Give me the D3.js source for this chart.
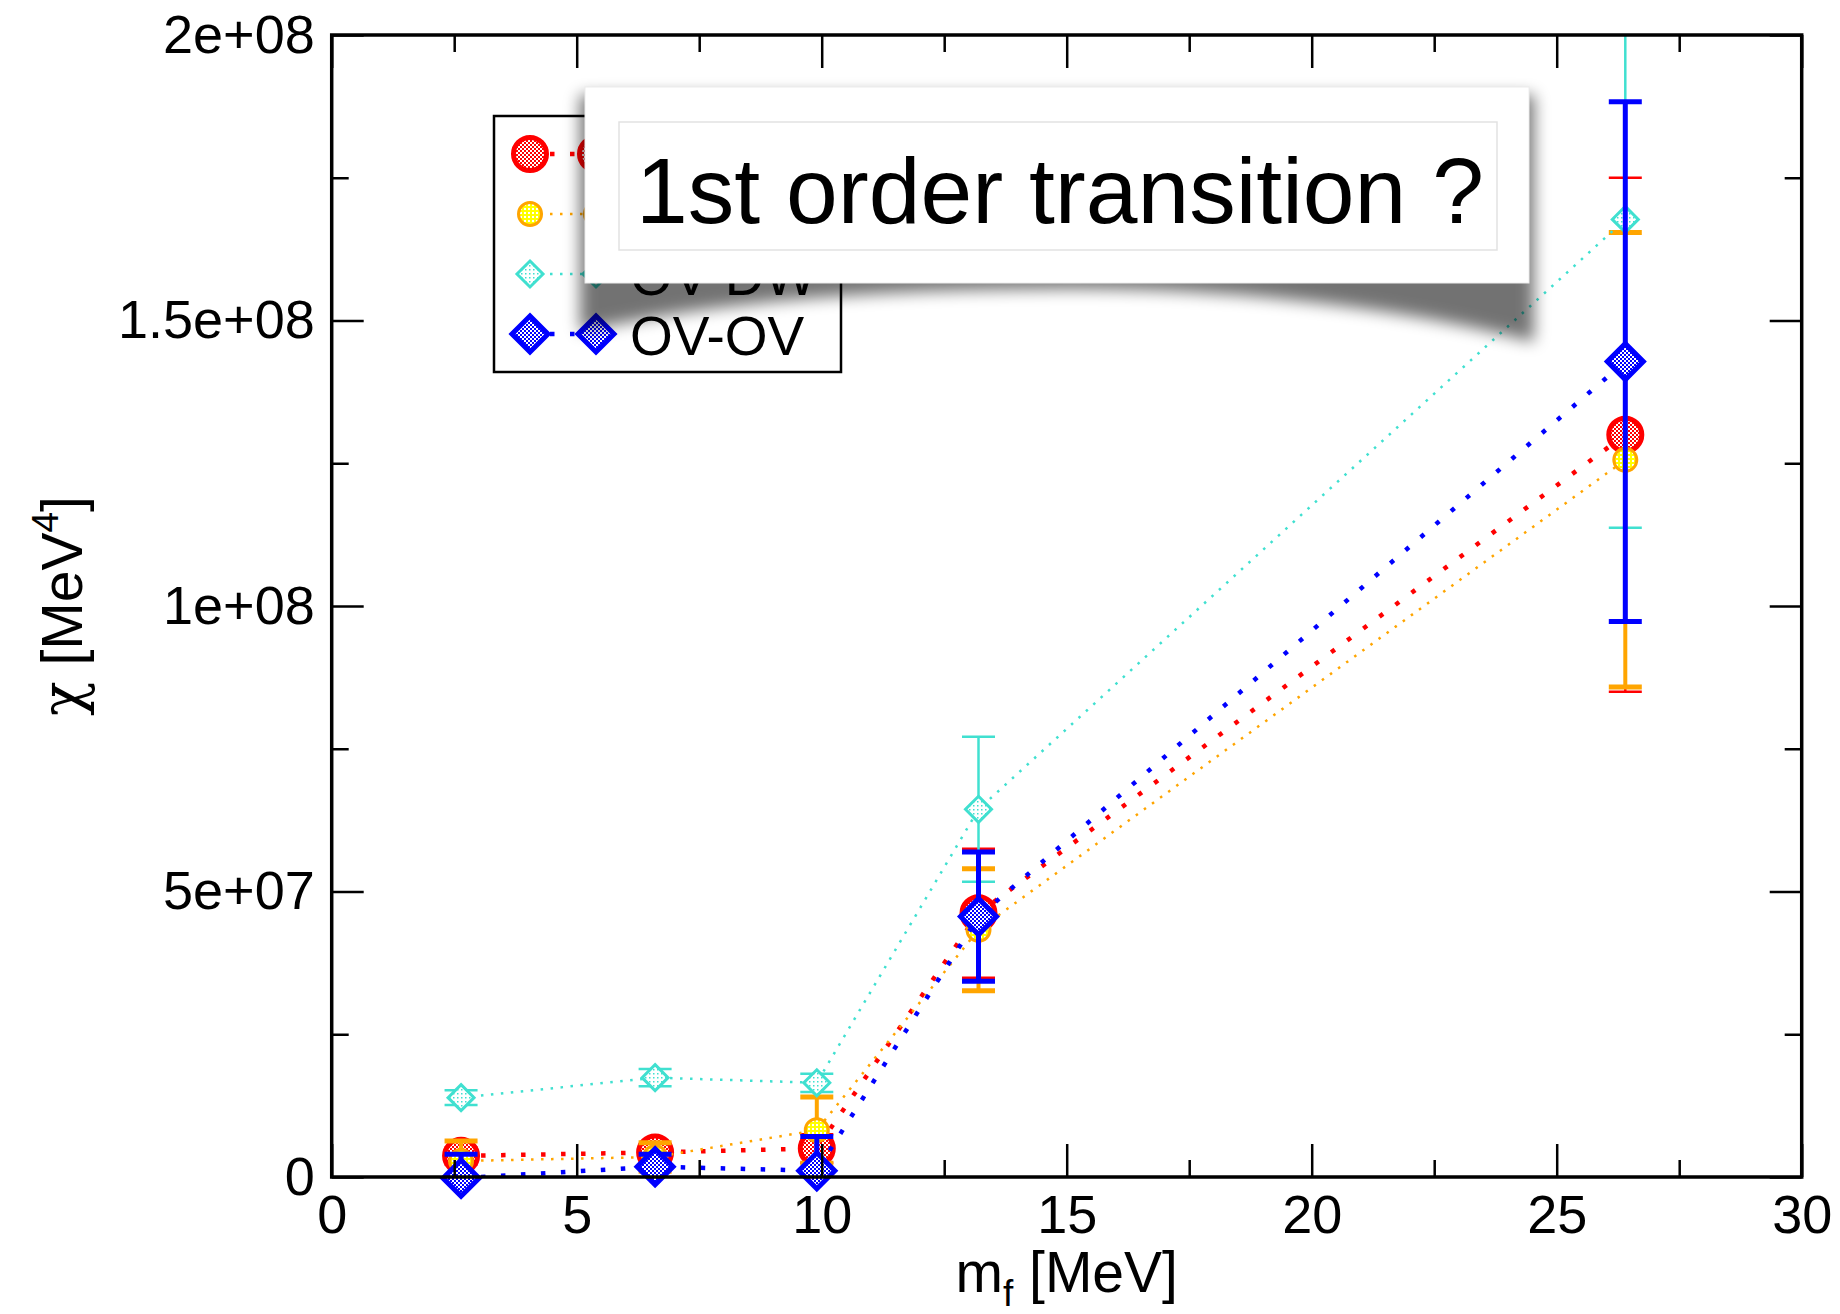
<!DOCTYPE html>
<html>
<head>
<meta charset="utf-8">
<script src="https://cdn.jsdelivr.net/npm/d3@7"></script>
<style>
  body { margin: 0; background: #fff; }
  text { font-family: "Liberation Sans", Arial, sans-serif; fill: #000; }
</style>
</head>
<body>
<svg width="1840" height="1314"></svg>
<script>
// chi vs quark mass, four lattice setups
const mf = [2.64, 6.6, 9.9, 13.2, 26.4];

const chiRed = [3.7e6, 4.3e6, 5.0e6, 4.62e7, 1.30e8];
const errRed = [1.5e6, 1.5e6, 2.5e6, 1.13e7, 4.5e7];

const chiOrange = [2.8e6, 3.5e6, 8.2e6, 4.33e7, 1.256e8];
const errOrange = [3.5e6, 2.5e6, 5.8e6, 1.07e7, 3.98e7];

const chiTurq = [1.39e7, 1.74e7, 1.65e7, 6.44e7, 1.677e8];
const errTurq = [1.3e6, 1.5e6, 1.6e6, 1.27e7, 5.4e7];

const chiBlue = [-2e5, 1.8e6, 1.1e6, 4.56e7, 1.428e8];
const errBlue = [4.2e6, 2.2e6, 6.0e6, 1.13e7, 4.55e7];

// first two legend labels are covered by the callout, so they stay empty
const seriesNames = ['', '', 'OV-DW', 'OV-OV'];

const xMajorTicks = [0, 5, 10, 15, 20, 25, 30];
const xMinorTicks = [2.5, 7.5, 12.5, 17.5, 22.5, 27.5];
const yMajorTicks = [0, 5e7, 1e8, 1.5e8, 2e8];
const yTickLabels = ['0', '5e+07', '1e+08', '1.5e+08', '2e+08'];
const yMinorTicks = [2.5e7, 7.5e7, 1.25e8, 1.75e8];

const xAxisLabel = 'm';
const xAxisSub = 'f';
const xAxisUnit = ' [MeV]';
const noteText = '1st order transition ?';

const svg = d3.select('svg');

// plot frame in pixels
const pLeft = 331.7, pRight = 1801.7, pTop = 35, pBottom = 1177;

const xScale = d3.scaleLinear().domain([0, 30]).range([pLeft, pRight]);
const yScale = d3.scaleLinear().domain([0, 2e8]).range([pBottom, pTop]);

const defs = svg.append('defs');
defs.append('clipPath').attr('id', 'plotClip')
  .append('rect')
  .attr('x', pLeft).attr('y', pTop)
  .attr('width', pRight - pLeft).attr('height', pBottom - pTop);

// checker fills like grace's pattern symbols
const makePattern = (id, bg, fg, cells) => {
  const p = defs.append('pattern')
    .attr('id', id)
    .attr('patternUnits', 'userSpaceOnUse')
    .attr('width', 4).attr('height', 4);
  p.append('rect').attr('width', 4).attr('height', 4).attr('fill', bg);
  cells.forEach(c => p.append('rect')
    .attr('x', c[0]).attr('y', c[1]).attr('width', c[2]).attr('height', c[2])
    .attr('fill', fg));
};
makePattern('patRed', '#ff0000', '#ffffff', [[0, 0, 2], [2, 2, 2]]);
makePattern('patOrange', '#ffff00', '#ffffff', [[0, 0, 2]]);
makePattern('patTurq', '#ffffff', '#40e0d0', [[1, 1, 1.5]]);
makePattern('patBlue', '#0000ff', '#ffffff', [[0, 0, 2], [2, 2, 2]]);

const series = [
  { name: seriesNames[0], y: chiRed, e: errRed, color: '#ff0000', fill: 'url(#patRed)',
    shape: 'circle', size: 16.5, sw: 5, lw: 4.5, dash: '4.5 15.5', ew: 2.5, cw: 2.5 },
  { name: seriesNames[1], y: chiOrange, e: errOrange, color: '#ffa500', fill: 'url(#patOrange)',
    shape: 'circle', size: 11.5, sw: 3, lw: 2.5, dash: '2.5 7.5', ew: 4, cw: 5 },
  { name: seriesNames[2], y: chiTurq, e: errTurq, color: '#40e0d0', fill: 'url(#patTurq)',
    shape: 'diamond', size: 13, sw: 3, lw: 2.5, dash: '2.5 7.5', ew: 2.5, cw: 2.5 },
  { name: seriesNames[3], y: chiBlue, e: errBlue, color: '#0000ff', fill: 'url(#patBlue)',
    shape: 'diamond', size: 18, sw: 5, lw: 4.5, dash: '4.5 15.5', ew: 5, cw: 5 }
];

const capHalf = 16.5;

const drawSymbol = (sel, s, cx, cy) => {
  if (s.shape === 'circle') {
    sel.append('circle')
      .attr('cx', cx).attr('cy', cy).attr('r', s.size)
      .attr('fill', s.fill).attr('stroke', s.color).attr('stroke-width', s.sw);
  } else {
    const d = s.size;
    sel.append('path')
      .attr('d', `M${cx},${cy - d}L${cx + d},${cy}L${cx},${cy + d}L${cx - d},${cy}Z`)
      .attr('fill', s.fill).attr('stroke', s.color).attr('stroke-width', s.sw)
      .attr('stroke-linejoin', 'miter');
  }
};

const dataLayer = svg.append('g');

series.forEach(s => {
  const pts = mf.map((x, i) => ({ x, y: s.y[i], e: s.e[i] }));
  const g = dataLayer.append('g');

  // dotted connecting line
  g.append('path')
    .attr('clip-path', 'url(#plotClip)')
    .attr('d', d3.line().x(d => xScale(d.x)).y(d => yScale(d.y))(pts))
    .attr('fill', 'none')
    .attr('stroke', s.color)
    .attr('stroke-width', s.lw)
    .attr('stroke-dasharray', s.dash);

  // error bars
  const eb = g.append('g').attr('clip-path', 'url(#plotClip)');
  pts.forEach(d => {
    const cx = xScale(d.x);
    const y1 = yScale(d.y - d.e), y2 = yScale(d.y + d.e);
    eb.append('line')
      .attr('x1', cx).attr('x2', cx).attr('y1', y1).attr('y2', y2)
      .attr('stroke', s.color).attr('stroke-width', s.ew);
    [y1, y2].forEach(yy => eb.append('line')
      .attr('x1', cx - capHalf).attr('x2', cx + capHalf)
      .attr('y1', yy).attr('y2', yy)
      .attr('stroke', s.color).attr('stroke-width', s.cw));
  });

  // symbols
  pts.forEach(d => drawSymbol(g, s, xScale(d.x), yScale(d.y)));
});

// axes: major + minor ticks pointing inward, on all four sides
const tickFont = 54;
const styleAxis = (grp, width) => {
  grp.select('.domain').remove();
  grp.selectAll('line').attr('stroke', '#000').attr('stroke-width', width);
  grp.selectAll('text').attr('font-size', tickFont)
    .attr('font-family', '"Liberation Sans", Arial, sans-serif').attr('fill', '#000');
};

svg.append('g').attr('transform', `translate(0,${pBottom})`)
  .call(d3.axisBottom(xScale).tickValues(xMajorTicks).tickSize(-33).tickPadding(18)
    .tickFormat(d3.format('d')))
  .call(g => styleAxis(g, 2.5));
svg.append('g').attr('transform', `translate(0,${pBottom})`)
  .call(d3.axisBottom(xScale).tickValues(xMinorTicks).tickSize(-17).tickFormat(''))
  .call(g => styleAxis(g, 2.5));

svg.append('g').attr('transform', `translate(0,${pTop})`)
  .call(d3.axisTop(xScale).tickValues(xMajorTicks).tickSize(-33).tickFormat(''))
  .call(g => styleAxis(g, 2.5));
svg.append('g').attr('transform', `translate(0,${pTop})`)
  .call(d3.axisTop(xScale).tickValues(xMinorTicks).tickSize(-17).tickFormat(''))
  .call(g => styleAxis(g, 2.5));

svg.append('g').attr('transform', `translate(${pLeft},0)`)
  .call(d3.axisLeft(yScale).tickValues(yMajorTicks).tickSize(-32).tickPadding(17)
    .tickFormat((d, i) => yTickLabels[i]))
  .call(g => styleAxis(g, 2.5));
svg.append('g').attr('transform', `translate(${pLeft},0)`)
  .call(d3.axisLeft(yScale).tickValues(yMinorTicks).tickSize(-17).tickFormat(''))
  .call(g => styleAxis(g, 2.5));

svg.append('g').attr('transform', `translate(${pRight},0)`)
  .call(d3.axisRight(yScale).tickValues(yMajorTicks).tickSize(-32).tickFormat(''))
  .call(g => styleAxis(g, 2.5));
svg.append('g').attr('transform', `translate(${pRight},0)`)
  .call(d3.axisRight(yScale).tickValues(yMinorTicks).tickSize(-17).tickFormat(''))
  .call(g => styleAxis(g, 2.5));

svg.append('rect')
  .attr('x', pLeft).attr('y', pTop)
  .attr('width', pRight - pLeft).attr('height', pBottom - pTop)
  .attr('fill', 'none').attr('stroke', '#000').attr('stroke-width', 3.5);

// axis titles
const xTitle = svg.append('text')
  .attr('x', (pLeft + pRight) / 2).attr('y', 1292)
  .attr('text-anchor', 'middle').attr('font-size', 57);
xTitle.append('tspan').text(xAxisLabel);
xTitle.append('tspan').attr('font-size', 37).attr('dy', 14).text(xAxisSub);
xTitle.append('tspan').attr('dy', -14).text(xAxisUnit);

const yTitle = svg.append('text')
  .attr('transform', `translate(82,${(pTop + pBottom) / 2}) rotate(-90)`)
  .attr('text-anchor', 'middle').attr('font-size', 57);
yTitle.append('tspan').style('font-family', '"DejaVu Serif", serif').text('\u03c7');
yTitle.append('tspan').text(' [MeV');
yTitle.append('tspan').attr('font-size', 37).attr('dy', -24).text('4');
yTitle.append('tspan').attr('dy', 24).text(']');

// legend
const legend = svg.append('g');
legend.append('rect')
  .attr('x', 494).attr('y', 116).attr('width', 347).attr('height', 256)
  .attr('fill', '#fff').attr('stroke', '#000').attr('stroke-width', 2.5);
const legendY = [154, 214, 274, 334];
series.forEach((s, i) => {
  const ly = legendY[i];
  legend.append('line')
    .attr('x1', 530).attr('x2', 596).attr('y1', ly).attr('y2', ly)
    .attr('stroke', s.color).attr('stroke-width', s.lw)
    .attr('stroke-dasharray', s.dash);
  drawSymbol(legend, s, 530, ly);
  drawSymbol(legend, s, 596, ly);
  if (s.name) {
    legend.append('text')
      .attr('x', 630).attr('y', ly + 21)
      .attr('font-size', 55)
      .text(s.name);
  }
});

// callout box with curled shadow
const blur = defs.append('filter').attr('id', 'softShadow')
  .attr('x', '-10%').attr('y', '-30%').attr('width', '120%').attr('height', '160%');
blur.append('feGaussianBlur').attr('stdDeviation', 8);

const note = svg.append('g');
note.append('path')
  .attr('d', 'M580,95 L1534,95 L1534,342 C1380,302 1200,287 1050,289 C880,290 720,300 580,332 Z')
  .attr('fill', '#000').attr('opacity', 0.55)
  .attr('filter', 'url(#softShadow)');
note.append('rect')
  .attr('x', 585).attr('y', 87).attr('width', 944).attr('height', 196)
  .attr('fill', '#fff').attr('stroke', '#ececec').attr('stroke-width', 1);
note.append('rect')
  .attr('x', 619).attr('y', 122).attr('width', 878).attr('height', 128)
  .attr('fill', '#fff').attr('stroke', '#e2e2e2').attr('stroke-width', 1.5);
note.append('text')
  .attr('x', 1060).attr('y', 223)
  .attr('text-anchor', 'middle')
  .attr('font-size', 93)
  .text(noteText);
</script>
</body>
</html>
